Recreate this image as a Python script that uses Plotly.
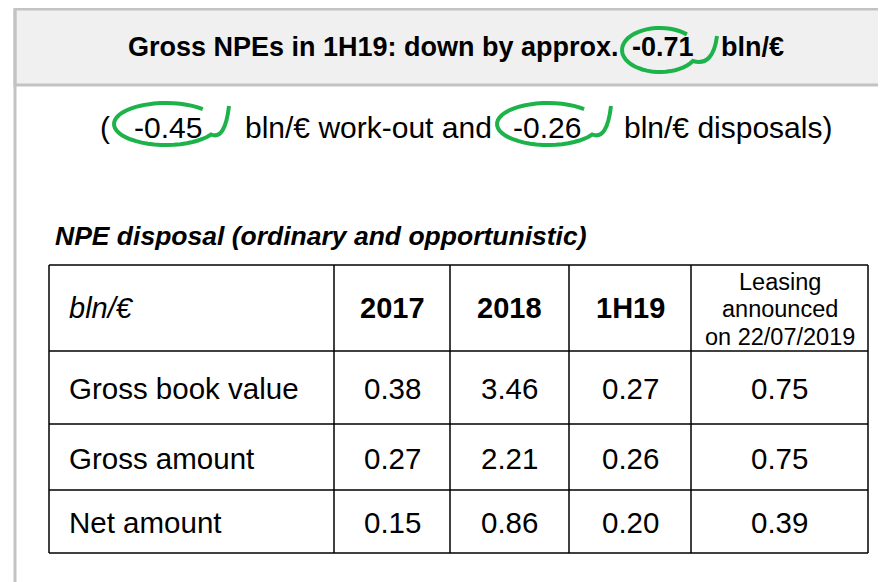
import plotly.graph_objects as go
import numpy as np

# ---------------- data ----------------
title_text = "Gross NPEs in 1H19: down by approx."
title_value = "-0.71"
title_unit = "bln/€"
workout_value = "-0.45"
disposal_value = "-0.26"
section_title = "NPE disposal (ordinary and opportunistic)"
unit_label = "bln/€"
columns = ["2017", "2018", "1H19", "Leasing<br>announced<br>on 22/07/2019"]
row_labels = ["Gross book value", "Gross amount", "Net amount"]
values_2017 = [0.38, 0.27, 0.15]
values_2018 = [3.46, 2.21, 0.86]
values_1h19 = [0.27, 0.26, 0.20]
values_leasing = [0.75, 0.75, 0.39]

# ---------------- layout constants ----------------
W, H = 886, 582
OFF = 8  # page body margin: data coords == window pixels
FONT = "Liberation Sans, Arial, sans-serif"
GREEN = "#1db34a"
BORDER = "#c3c3c3"
col_edges = [49, 334, 450, 569, 691, 868]
row_edges = [265, 351, 424, 490, 553]

shapes = []
annotations = []

# panel frame
shapes.append(dict(type="rect", x0=15, x1=W + 20, y0=9, y1=85, fillcolor="#f0f0f0",
                   line=dict(color=BORDER, width=3), layer="below"))
shapes.append(dict(type="line", x0=15, x1=15, y0=9, y1=H + 20, line=dict(color=BORDER, width=3)))

def txt(x, y, s, size, xanchor="center", bold=False, italic=False, color="black"):
    if bold:
        s = "<b>" + s + "</b>"
    if italic:
        s = "<i>" + s + "</i>"
    annotations.append(dict(x=x, y=y, xref="x", yref="y", text=s, showarrow=False,
                            xanchor=xanchor, yanchor="middle",
                            font=dict(family=FONT, size=size, color=color)))

# title
txt(126, 47, title_text, 27, xanchor="left", bold=True)
txt(630, 47, title_value, 27, xanchor="left", bold=True)
txt(719, 47, title_unit, 27, xanchor="left", bold=True)

# subtitle
txt(98, 127, "(", 30, xanchor="left")
txt(132, 127, workout_value, 30, xanchor="left")
txt(243, 127, title_unit + " work-out and", 30, xanchor="left")
txt(511, 127, disposal_value, 30, xanchor="left")
txt(622, 127, title_unit + " disposals)", 30, xanchor="left")

def swoosh(cx, cy, rx, ry, tail_x, tail_y):
    t = np.radians(np.linspace(45, 330, 40))
    xs = cx + rx * np.cos(t)
    ys = cy - ry * np.sin(t)
    pts = list(zip(xs, ys))
    ex, ey = pts[-1]
    path = "M " + " L ".join(f"{x:.1f},{y:.1f}" for x, y in pts)
    path += f" Q {tail_x - 4:.1f},{ey + 6:.1f} {tail_x:.1f},{tail_y:.1f}"
    shapes.append(dict(type="path", path=path, line=dict(color=GREEN, width=4)))

swoosh(660, 50, 38, 22, 717, 36)
swoosh(166, 124, 52, 21, 229, 106)
swoosh(548, 124, 51, 21, 611, 106)

# section title
txt(53, 236, section_title, 26.5, xanchor="left", bold=True, italic=True)

# table grid
for x in col_edges:
    shapes.append(dict(type="line", x0=x, x1=x, y0=row_edges[0], y1=row_edges[-1],
                       line=dict(color="black", width=1.5)))
for y in row_edges:
    shapes.append(dict(type="line", x0=col_edges[0], x1=col_edges[-1], y0=y, y1=y,
                       line=dict(color="black", width=1.5)))

# header
hy = (row_edges[0] + row_edges[1]) / 2
txt(67, hy, unit_label, 29, xanchor="left", italic=True)
for i, c in enumerate(columns):
    cx = (col_edges[i + 1] + col_edges[i + 2]) / 2
    if "<br>" in c:
        lines = c.split("<br>")
        n = len(lines)
        for k, ln in enumerate(lines):
            txt(cx, hy + 1 + (k - (n - 1) / 2) * 27.5, ln, 23.5)
    else:
        txt(cx, hy, c, 29, bold=True)

# body
table_cols = [values_2017, values_2018, values_1h19, values_leasing]
for r, lab in enumerate(row_labels):
    ry = (row_edges[r + 1] + row_edges[r + 2]) / 2
    txt(67, ry + 1, lab, 29.5, xanchor="left")
    for i, vals in enumerate(table_cols):
        cx = (col_edges[i + 1] + col_edges[i + 2]) / 2
        txt(cx, ry + 1, f"{vals[r]:.2f}", 29.5)

fig = go.Figure()
fig.update_layout(
    width=W, height=H, margin=dict(l=0, r=0, t=0, b=0),
    paper_bgcolor="white", plot_bgcolor="white",
    xaxis=dict(range=[OFF, W + OFF], visible=False, fixedrange=True),
    yaxis=dict(range=[H + OFF, OFF], visible=False, fixedrange=True),
    shapes=shapes, annotations=annotations, showlegend=False,
)
fig.write_html("out.html")
